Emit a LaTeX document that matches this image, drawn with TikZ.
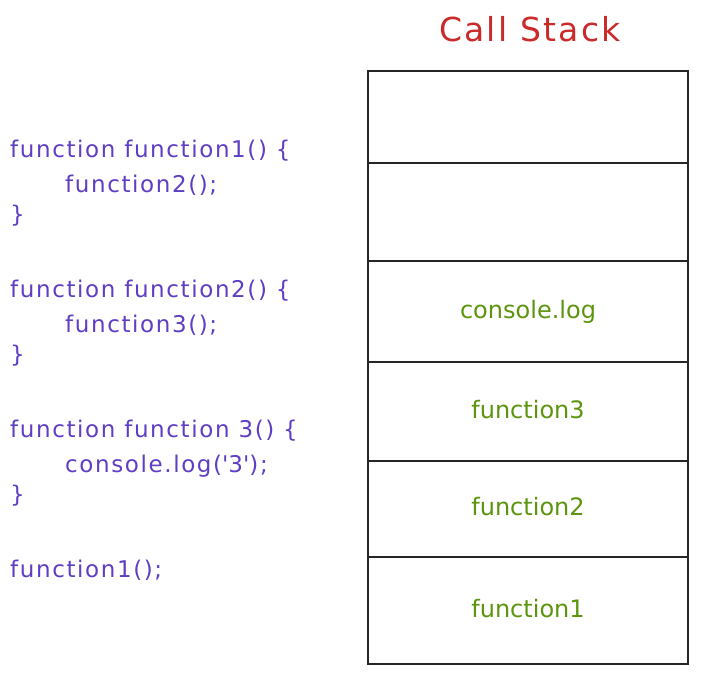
\documentclass[tikz,border=0pt]{standalone}
\usepackage{fontspec}
\setmainfont{DejaVu Sans}
\newfontfamily\sketchfont[LetterSpace=7]{DejaVu Sans}
\usetikzlibrary{positioning}
\definecolor{codeviolet}{HTML}{5F3DC4}
\definecolor{titlered}{HTML}{C92A2A}
\definecolor{framegreen}{HTML}{5C940D}

\tikzset{
  codeline/.style={anchor=base west,inner sep=0pt,text=codeviolet,font=\sketchfont\fontsize{23}{26}\selectfont},
  cell/.style={draw=black!85,line width=1.2pt,minimum width=320pt,inner sep=0pt,
    text=framegreen,font=\fontsize{24}{28}\selectfont,text height=18pt,text depth=5pt},
}

\begin{document}
\begin{tikzpicture}[x=1pt,y=-1pt]
\useasboundingbox (0,0) rectangle (703,674);
\node[anchor=base,text=titlered,font=\sketchfont\fontsize{33}{36}\selectfont] (title) at (530,42) {Call Stack};
% the code
\node[codeline] (fa) at (10,157) {function function1() \{};
\node[codeline] (fb) at (65,192) {function2();};
\node[codeline] (fc) at (10,222) {\}};
\node[codeline] (ga) at (10,297) {function function2() \{};
\node[codeline] (gb) at (65,332) {function3();};
\node[codeline] (gc) at (10,362) {\}};
\node[codeline] (ha) at (10,437) {function function 3() \{};
\node[codeline] (hb) at (65,472) {console.log(\textquotesingle3\textquotesingle);};
\node[codeline] (hc) at (10,502) {\}};
\node[codeline] (call) at (10,577) {function1();};
% the stack
\node[cell,minimum height=92pt] (s6) at (528,117) {};
\node[cell,minimum height=98pt] (s5) at (528,212) {};
\node[cell,minimum height=101pt] (s4) at (528,311.5) {console.log};
\node[cell,minimum height=99pt] (s3) at (528,411.5) {function3};
\node[cell,minimum height=96pt] (s2) at (528,509) {function2};
\node[cell,minimum height=107pt] (s1) at (528,610.5) {function1};
\end{tikzpicture}
\end{document}
